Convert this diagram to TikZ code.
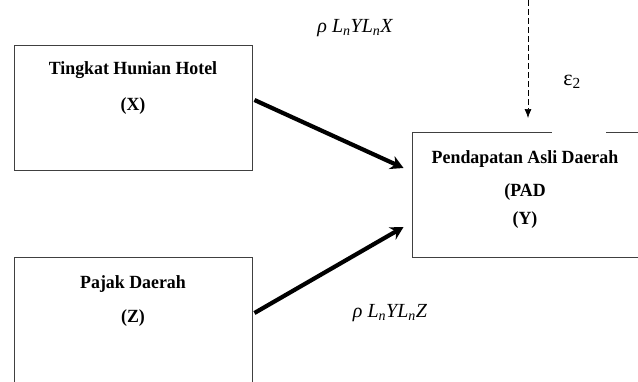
\documentclass[tikz,border=0pt]{standalone}
\usepackage{fontspec}
\setmainfont{Liberation Serif}
\newfontfamily\boxfont[FakeStretch=0.96]{Liberation Serif}
\usetikzlibrary{arrows.meta,calc,positioning}

\begin{document}
\begin{tikzpicture}[x=1pt,y=-1pt,
                varbox/.style={draw=black!75, line width=0.9pt, minimum width=238pt, inner sep=0pt},
                boxtext/.style={font=\boxfont\bfseries\fontsize{18.6}{22}\selectfont, inner sep=0pt},
                pathlabel/.style={font=\itshape\fontsize{20}{24}\selectfont, inner sep=0pt},
                patharrow/.style={line width=4.2pt, -{Stealth[length=13pt,width=14pt]}},
                errarrow/.style={line width=0.7pt, dash pattern=on 6pt off 3pt, -{Latex[length=9pt,width=7pt]}}
              ]
  \useasboundingbox (0,0) rectangle (638,381);
  \begin{scope}
    \clip (0,0) rectangle (638,381);
    % boxes
    \node [varbox, minimum height=125pt] (hx) at (133,107.5) {};
    \node [varbox, minimum height=160pt] (hz) at (133,337) {};
    \node [varbox, minimum height=125pt] (pad) at (531,194.5) {};
    \draw [white, line width=2pt] (552,132) -- (606,132);
  \end{scope}
  % texts
  \node [boxtext] (tx1) at (133,70) {Tingkat Hunian Hotel};
  \node [boxtext, below=36pt of tx1.center, anchor=center] (tx2) {(X)};
  \node [boxtext] (tz1) at (133,284) {Pajak Daerah};
  \node [boxtext, below=34pt of tz1.center, anchor=center] (tz2) {(Z)};
  \node [boxtext] (ty1) at (525,159) {Pendapatan Asli Daerah};
  \node [boxtext, below=33pt of ty1.center, anchor=center] (ty2) {(PAD};
  \node [boxtext, below=28pt of ty2.center, anchor=center] (ty3) {(Y)};
  % paths
  \coordinate (x1) at ($(hx.east)+(2,-7.5)$);
  \coordinate (z1) at ($(hz.east)+(2,-24)$);
  \coordinate (y1) at ($(pad.west)+(-8,-26.5)$);
  \coordinate (y2) at ($(pad.west)+(-8,32.5)$);
  \draw [patharrow] (x1) -- (y1);
  \draw [patharrow] (z1) -- (y2);
  \node [pathlabel] (rx) at (355,28) {ρ L\textsubscript{n}YL\textsubscript{n}X};
  \node [pathlabel] (rz) at (390,313) {ρ L\textsubscript{n}YL\textsubscript{n}Z};
  % error term
  \coordinate (etop) at (528,0);
  \coordinate (ebot) at (528,118);
  \draw [errarrow] (etop) -- (ebot);
  \node [pathlabel, font=\fontsize{22}{24}\selectfont] (eps) at (572,82) {ε\textsubscript{2}};
\end{tikzpicture}
\end{document}
